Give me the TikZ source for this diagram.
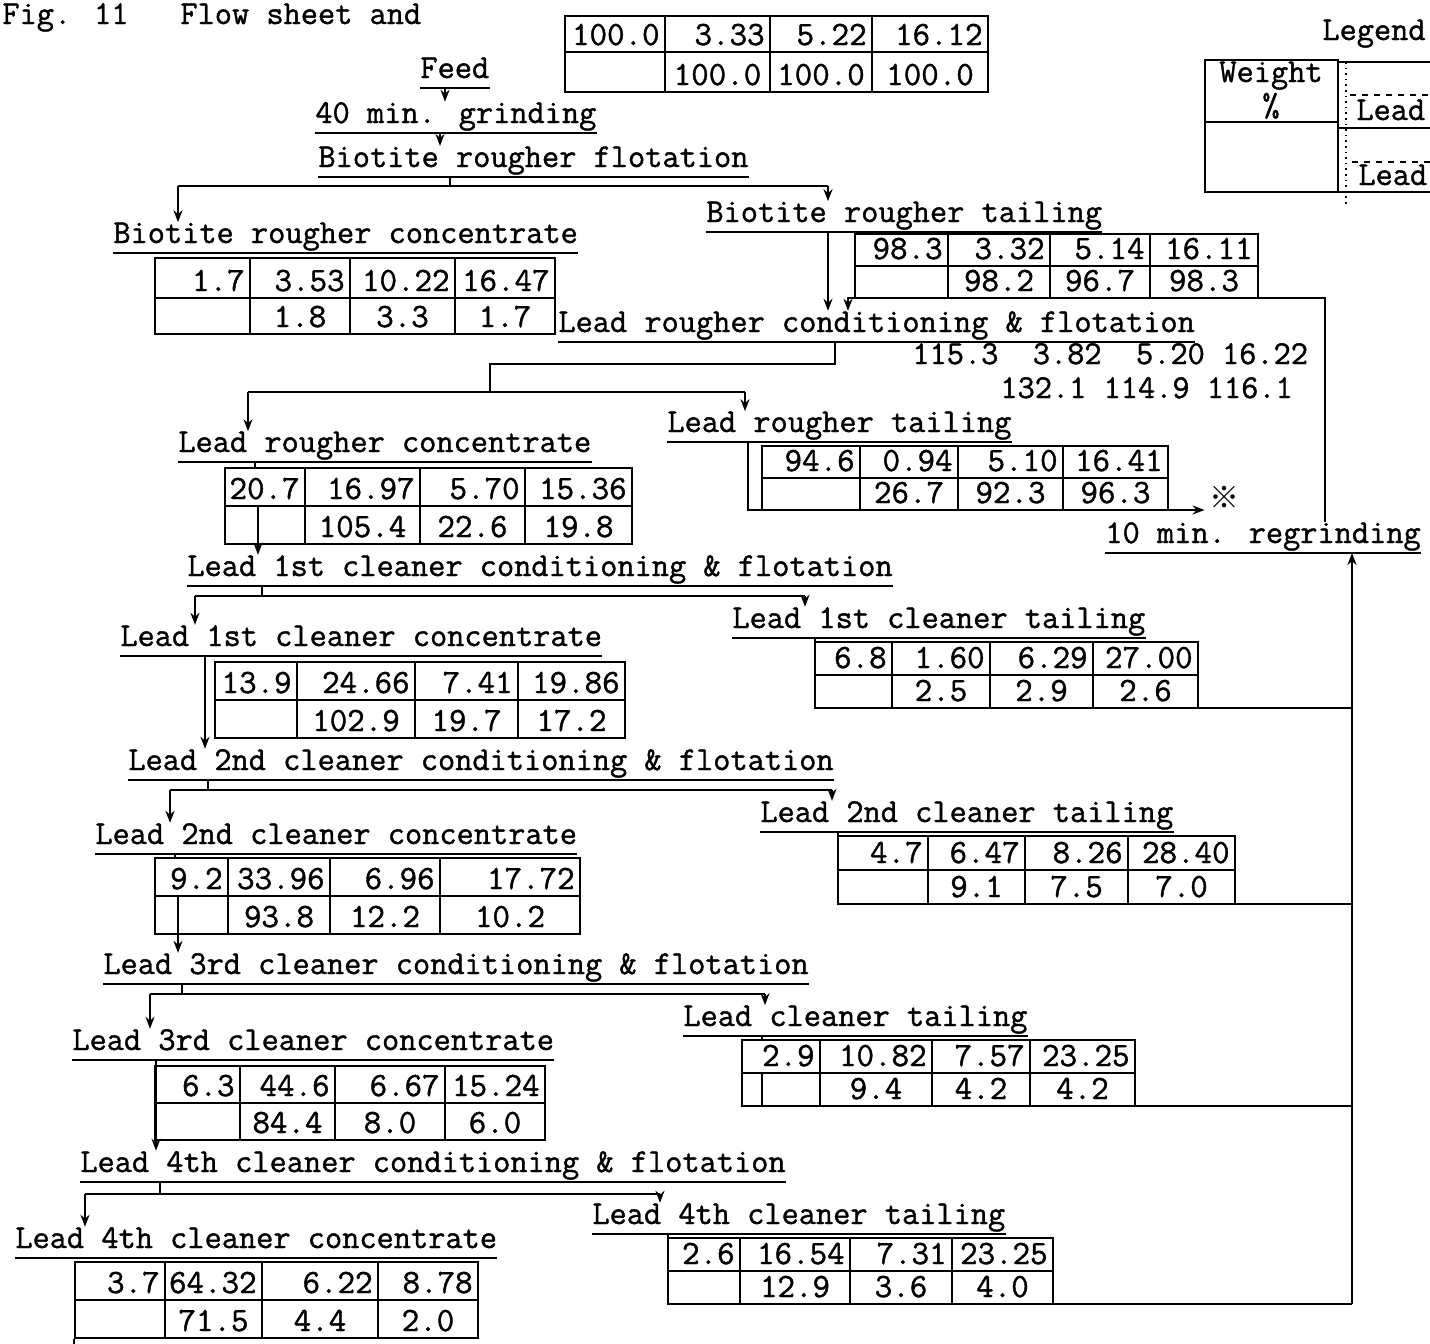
\documentclass[tikz,border=0pt]{standalone}
\usepackage{fontspec}
\usetikzlibrary{arrows.meta,fit}
\newfontfamily\refmark{Noto Sans CJK JP}
\newfontfamily\tw[FakeBold=1.2]{Latin Modern Mono}
\newcommand\lblfont{\tw\fontsize{16.7}{20}\selectfont}
\newcommand\numfont{\tw\fontsize{17}{20}\selectfont}
\tikzset{
  lbl/.style={inner sep=0pt, anchor=base west, font=\lblfont},
  numtop/.style={inner sep=0pt, anchor=base east, font=\numfont},
  numbot/.style={inner sep=0pt, anchor=base, font=\numfont},
  uline/.style={line width=1.2pt},
  conn/.style={line width=1.2pt},
  flow/.style={line width=1.2pt, -{Stealth[length=6pt,width=4.5pt]}},
  tblbox/.style={draw, line width=1.1pt, inner sep=0pt},
  tblline/.style={line width=1.1pt},
}
\newcommand\lab[4]{%
  \node[lbl] (#1) at (#2,#3) {#4};
  \draw[uline] ([yshift=-5pt]#1.base west) -- ([yshift=-5pt]#1.base east);}
\newcommand\dtable[9]{%
  \coordinate (#1-nw) at (#2,#7);
  \coordinate (#1-se) at (#6,#9);
  \node[tblbox, fit=(#1-nw)(#1-se)] (#1) {};
  \draw[tblline] (#2,#8) -- (#6,#8);
  \draw[tblline] (#3,#7) -- (#3,#9);
  \draw[tblline] (#4,#7) -- (#4,#9);
  \draw[tblline] (#5,#7) -- (#5,#9);
  \coordinate (#1-t1) at ({#3-5},{#8-7});
  \coordinate (#1-t2) at ({#4-5},{#8-7});
  \coordinate (#1-t3) at ({#5-5},{#8-7});
  \coordinate (#1-t4) at ({#6-5},{#8-7});
  \coordinate (#1-b2) at ({(#3+#4)/2},{#9-7});
  \coordinate (#1-b3) at ({(#4+#5)/2},{#9-7});
  \coordinate (#1-b4) at ({(#5+#6)/2},{#9-7});}
\newcommand\dvals[8]{%
  \node[numtop] (#1-v1) at (#1-t1) {#2};
  \node[numtop] (#1-v2) at (#1-t2) {#3};
  \node[numtop] (#1-v3) at (#1-t3) {#4};
  \node[numtop] (#1-v4) at (#1-t4) {#5};
  \node[numbot] (#1-v6) at (#1-b2) {#6};
  \node[numbot] (#1-v7) at (#1-b3) {#7};
  \node[numbot] (#1-v8) at (#1-b4) {#8};}
\begin{document}
\begin{tikzpicture}[x=0.5pt,y=-0.5pt]
\path[use as bounding box] (0,0) rectangle (1430,1344);
\clip (0,0) rectangle (1430,1344);
\fill[white] (0,0) rectangle (1430,1344);

% title
\node[lbl] (fig) at (2,24) {Fig. 11};
\node[lbl] (title) at (180,24) {Flow sheet and};

% legend
\node[lbl] (legend) at (1322,40) {Legend};
\coordinate (lg-nw) at (1205,60);
\coordinate (lg-se) at (1338,192);
\node[tblbox, fit=(lg-nw)(lg-se)] (lgbox) {};
\draw[tblline] (1205,122) -- (1338,122);
\node[font=\lblfont, inner sep=0pt, anchor=base] (lgw) at (1271,82) {Weight};
\node[font=\lblfont, inner sep=0pt, anchor=base] (lgp) at (1271,116) {\%};
\draw[tblline] (1338,62) -- (1430,62);
\draw[tblline, dashed] (1350,95) -- (1430,95);
\node[lbl] (lgl1) at (1356,120) {Lead};
\draw[tblline] (1338,128) -- (1430,128);
\draw[tblline, dashed] (1352,162) -- (1430,162);
\node[lbl] (lgl2) at (1358,185) {Lead};
\draw[tblline] (1338,192) -- (1430,192);
\draw[dotted, line width=0.8pt] (1346,62) -- (1346,204);

% feed and grinding
\lab{feed}{420}{78}{Feed}
\dtable{t0}{565}{665}{770}{872}{988}{16}{52}{92}
\dvals{t0}{100.0}{3.33}{5.22}{16.12}{100.0}{100.0}{100.0}
\lab{grind}{315}{123}{40 min. grinding}
\lab{bflot}{318}{167}{Biotite rougher flotation}
\coordinate (a1) at (445,88);
\draw[flow] (a1) -- (a1 |- grind.north);
\coordinate (a2) at (440,133);
\draw[flow] (a2) -- (a2 |- bflot.north);

% biotite rougher products
\lab{brc}{113}{243}{Biotite rougher concentrate}
\lab{brt}{706}{222}{Biotite rougher tailing}
\coordinate (j0) at (450,177);
\coordinate (j0b) at (450,186);
\coordinate (j0l) at (178,186);
\coordinate (j0r) at (828,186);
\draw[conn] (j0) -- (j0b);
\draw[conn] (j0l) -- (j0r);
\draw[flow] (j0l) -- (j0l |- brc.north);
\draw[flow] (j0r) -- (j0r |- brt.north);
\dtable{brcT}{155}{250}{350}{455}{555}{258}{298}{334}
\dvals{brcT}{1.7}{3.53}{10.22}{16.47}{1.8}{3.3}{1.7}
\dtable{brtT}{855}{948}{1050}{1150}{1258}{234}{266}{298}
\dvals{brtT}{98.3}{3.32}{5.14}{16.11}{98.2}{96.7}{98.3}

% lead rougher
\lab{lrcf}{558}{332}{Lead rougher conditioning \& flotation}
\node[lbl] (lrcfn1) at (912,364) {115.3~~3.82~~5.20~16.22};
\node[lbl] (lrcfn2) at (1000,398) {132.1~114.9~116.1};
\coordinate (bt) at (828,232);
\draw[flow] (bt) -- (bt |- lrcf.north);

% regrinding and recycle
\lab{rg}{1105}{543}{10 min. regrinding}
\coordinate (ru1) at (1325,298);
\coordinate (ru2) at (848,298);
\draw[flow] (ru1 |- rg.north) -- (ru1) -- (ru2) -- (ru2 |- lrcf.north);

\coordinate (k1) at (835,342);
\coordinate (k2) at (835,364);
\coordinate (k3) at (490,364);
\coordinate (k4) at (490,392);
\coordinate (kl) at (248,392);
\coordinate (kr) at (745,392);
\draw[conn] (k1) -- (k2) -- (k3) -- (k4);
\draw[conn] (kl) -- (kr);
\lab{lrc}{178}{452}{Lead rougher concentrate}
\lab{lrt}{667}{432}{Lead rougher tailing}
\draw[flow] (kl) -- (kl |- lrc.north);
\draw[flow] (kr) -- (kr |- lrt.north);

\dtable{lrtT}{762}{860}{958}{1063}{1168}{446}{478}{510}
\dvals{lrtT}{94.6}{0.94}{5.10}{16.41}{26.7}{92.3}{96.3}
\node[font=\refmark\fontsize{15}{18}\selectfont, inner sep=0pt] (mark) at (1224,497) {※};
\coordinate (lt1) at (748,442);
\coordinate (lt2) at (748,510);
\draw[flow, shorten >=2pt] (lt1) -- (lt2) -- (lt2 -| mark.west);

\dtable{lrcT}{225}{305}{420}{525}{632}{468}{506}{544}
\dvals{lrcT}{20.7}{16.97}{5.70}{15.36}{105.4}{22.6}{19.8}

% 1st cleaner
\lab{l1cf}{187}{576}{Lead 1st cleaner conditioning \& flotation}
\coordinate (c1a) at (255,462);
\coordinate (c1b) at (258,506);
\draw[conn] (c1a) -- (c1a |- lrcT.north);
\draw[flow] (c1b) -- (c1b |- l1cf.north);
\coordinate (m1) at (262,586);
\coordinate (m1b) at (262,596);
\coordinate (m1l) at (195,596);
\coordinate (m1r) at (805,596);
\draw[conn] (m1) -- (m1b);
\draw[conn] (m1l) -- (m1r);
\lab{l1cc}{120}{646}{Lead 1st cleaner concentrate}
\lab{l1ct}{732}{628}{Lead 1st cleaner tailing}
\draw[flow] (m1l) -- (m1l |- l1cc.north);
\draw[flow] (m1r) -- (m1r |- l1ct.north);
\dtable{l1ctT}{815}{892}{990}{1093}{1198}{642}{675}{708}
\dvals{l1ctT}{6.8}{1.60}{6.29}{27.00}{2.5}{2.9}{2.6}
\dtable{l1ccT}{215}{297}{415}{518}{625}{662}{700}{738}
\dvals{l1ccT}{13.9}{24.66}{7.41}{19.86}{102.9}{19.7}{17.2}

% 2nd cleaner
\lab{l2cf}{128}{770}{Lead 2nd cleaner conditioning \& flotation}
\coordinate (c2) at (205,656);
\draw[flow] (c2) -- (c2 |- l2cf.north);
\coordinate (m2) at (208,780);
\coordinate (m2b) at (208,790);
\coordinate (m2l) at (170,790);
\coordinate (m2r) at (832,790);
\draw[conn] (m2) -- (m2b);
\draw[conn] (m2l) -- (m2r);
\lab{l2cc}{95}{844}{Lead 2nd cleaner concentrate}
\lab{l2ct}{760}{822}{Lead 2nd cleaner tailing}
\draw[flow] (m2l) -- (m2l |- l2cc.north);
\draw[flow] (m2r) -- (m2r |- l2ct.north);
\dtable{l2ctT}{838}{928}{1025}{1128}{1235}{836}{870}{904}
\dvals{l2ctT}{4.7}{6.47}{8.26}{28.40}{9.1}{7.5}{7.0}
\dtable{l2ccT}{155}{228}{330}{440}{580}{858}{896}{934}
\dvals{l2ccT}{9.2}{33.96}{6.96}{17.72}{93.8}{12.2}{10.2}

% 3rd cleaner
\lab{l3cf}{103}{974}{Lead 3rd cleaner conditioning \& flotation}
\coordinate (c3a) at (175,854);
\coordinate (c3b) at (178,896);
\draw[conn] (c3a) -- (c3a |- l2ccT.north);
\draw[flow] (c3b) -- (c3b |- l3cf.north);
\coordinate (m3) at (182,984);
\coordinate (m3b) at (182,994);
\coordinate (m3l) at (150,994);
\coordinate (m3r) at (765,994);
\draw[conn] (m3) -- (m3b);
\draw[conn] (m3l) -- (m3r);
\lab{l3cc}{72}{1050}{Lead 3rd cleaner concentrate}
\lab{lct}{683}{1026}{Lead cleaner tailing}
\draw[flow] (m3l) -- (m3l |- l3cc.north);
\draw[flow] (m3r) -- (m3r |- lct.north);
\dtable{lctT}{742}{820}{932}{1030}{1135}{1040}{1073}{1106}
\dvals{lctT}{2.9}{10.82}{7.57}{23.25}{9.4}{4.2}{4.2}
\dtable{l3ccT}{155}{240}{335}{445}{545}{1066}{1103}{1140}
\dvals{l3ccT}{6.3}{44.6}{6.67}{15.24}{84.4}{8.0}{6.0}

% 4th cleaner
\lab{l4cf}{80}{1172}{Lead 4th cleaner conditioning \& flotation}
\coordinate (c4) at (156,1060);
\draw[flow] (c4) -- (c4 |- l4cf.north);
\coordinate (m4) at (160,1182);
\coordinate (m4b) at (160,1194);
\coordinate (m4l) at (85,1194);
\coordinate (m4r) at (660,1194);
\draw[conn] (m4) -- (m4b);
\draw[conn] (m4l) -- (m4r);
\lab{l4cc}{15}{1248}{Lead 4th cleaner concentrate}
\lab{l4ct}{592}{1224}{Lead 4th cleaner tailing}
\draw[flow] (m4l) -- (m4l |- l4cc.north);
\draw[flow] (m4r) -- (m4r |- l4ct.north);
\dtable{l4ctT}{668}{740}{850}{952}{1053}{1238}{1271}{1304}
\dvals{l4ctT}{2.6}{16.54}{7.31}{23.25}{12.9}{3.6}{4.0}
\dtable{l4ccT}{75}{165}{262}{378}{478}{1262}{1300}{1338}
\dvals{l4ccT}{3.7}{64.32}{6.22}{8.78}{71.5}{4.4}{2.0}
\draw[tblline] (l4ccT.south west) -- ++(0,10);

% cleaner tailings to regrinding
\coordinate (rc1) at (1352,708);
\coordinate (rc2) at (1352,904);
\coordinate (rc3) at (1352,1106);
\coordinate (rc4) at (1352,1304);
\coordinate (rgul) at (1352,553);
\coordinate (t1a) at (815,638);
\coordinate (t2a) at (838,832);
\coordinate (t3a) at (762,1036);
\coordinate (t3b) at (762,1073);
\coordinate (t4a) at (668,1234);
\draw[conn] (t1a) |- (rc1);
\draw[conn] (t2a) |- (rc2);
\draw[conn] (t3a) -- (t3a |- lctT.north);
\draw[conn] (t3b) |- (rc3);
\draw[conn] (t4a) |- (rc4);
\draw[flow] (rc4) -- (rgul);
\end{tikzpicture}
\end{document}
